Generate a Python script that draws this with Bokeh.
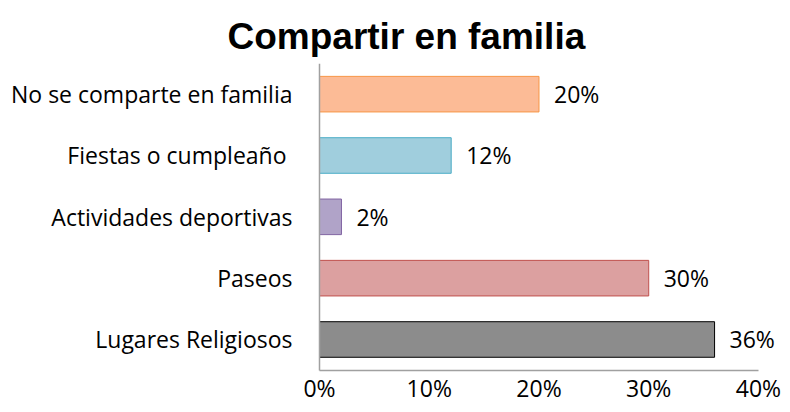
from bokeh.plotting import figure
from bokeh.models import ColumnDataSource, Range1d, FixedTicker, Title, CustomJSTickFormatter, LabelSet
from bokeh.core.properties import value
from bokeh.embed import file_html
from bokeh.resources import INLINE

categories = ["Lugares Religiosos", "Paseos", "Actividades deportivas", "Fiestas o cumpleaño ", "No se comparte en familia"]
values = [36, 30, 2, 12, 20]
fill_colors = ["#8c8c8c", "#dca0a0", "#b0a3c8", "#a0cedd", "#fcbb96"]
line_colors = ["#000000", "#c0504d", "#8064a2", "#4bacc6", "#f79646"]
labels = ["36%", "30%", "2%", "12%", "20%"]
x_ticks = [0, 10, 20, 30, 40]

positions = list(range(1, len(categories) + 1))
src = ColumnDataSource(dict(pos=positions, cat=categories, val=values,
                            fill=fill_colors, line=line_colors, lab=labels))

p = figure(width=782, height=404, output_backend="svg", toolbar_location=None,
           y_range=Range1d(-0.06, 5.5), x_range=Range1d(-29.07, 42.19),
           min_border_left=0, min_border_right=0, min_border_top=63, min_border_bottom=0)

p.hbar(y="pos", left=0, right="val", height=0.58, source=src,
       fill_color="fill", line_color="line", line_width=1)
p.add_layout(LabelSet(x="val", y="pos", text="lab", source=src, x_offset=15,
                      text_baseline="middle", text_align="left",
                      text_font=value("Open Sans"), text_font_size=value("23px"), text_color="#000000"))

p.title = Title(text="Compartir en familia", align="left", offset=227, vertical_align="top",
                text_font="Liberation Sans", text_font_size="37px", text_font_style="bold",
                text_color="#000000", standoff=10)

p.grid.visible = False
p.outline_line_color = None
p.background_fill_color = "white"
p.border_fill_color = "white"

for ax in (p.xaxis[0], p.yaxis[0]):
    ax.axis_line_color = "#a0a0a0"
    ax.axis_line_width = 1.5
    ax.major_tick_line_color = None
    ax.minor_tick_line_color = None
    ax.major_tick_out = 0
    ax.major_tick_in = 0
    ax.minor_tick_out = 0
    ax.minor_tick_in = 0
    ax.major_label_text_font = "Open Sans"
    ax.major_label_text_font_size = "23px"
    ax.major_label_text_color = "#000000"

p.xaxis.ticker = FixedTicker(ticks=x_ticks)
p.xaxis.bounds = (0, 40)
p.xaxis.fixed_location = 0.5
p.xaxis.formatter = CustomJSTickFormatter(code="return tick + '%';")
p.xaxis.major_label_standoff = 2

p.yaxis.ticker = FixedTicker(ticks=positions)
p.yaxis.bounds = (0.5, len(categories) + 0.5)
p.yaxis.fixed_location = 0
p.yaxis.major_label_overrides = {pos: cat for pos, cat in zip(positions, categories)}
p.yaxis.major_label_standoff = 27

open("out.html", "w").write(file_html(p, INLINE))
